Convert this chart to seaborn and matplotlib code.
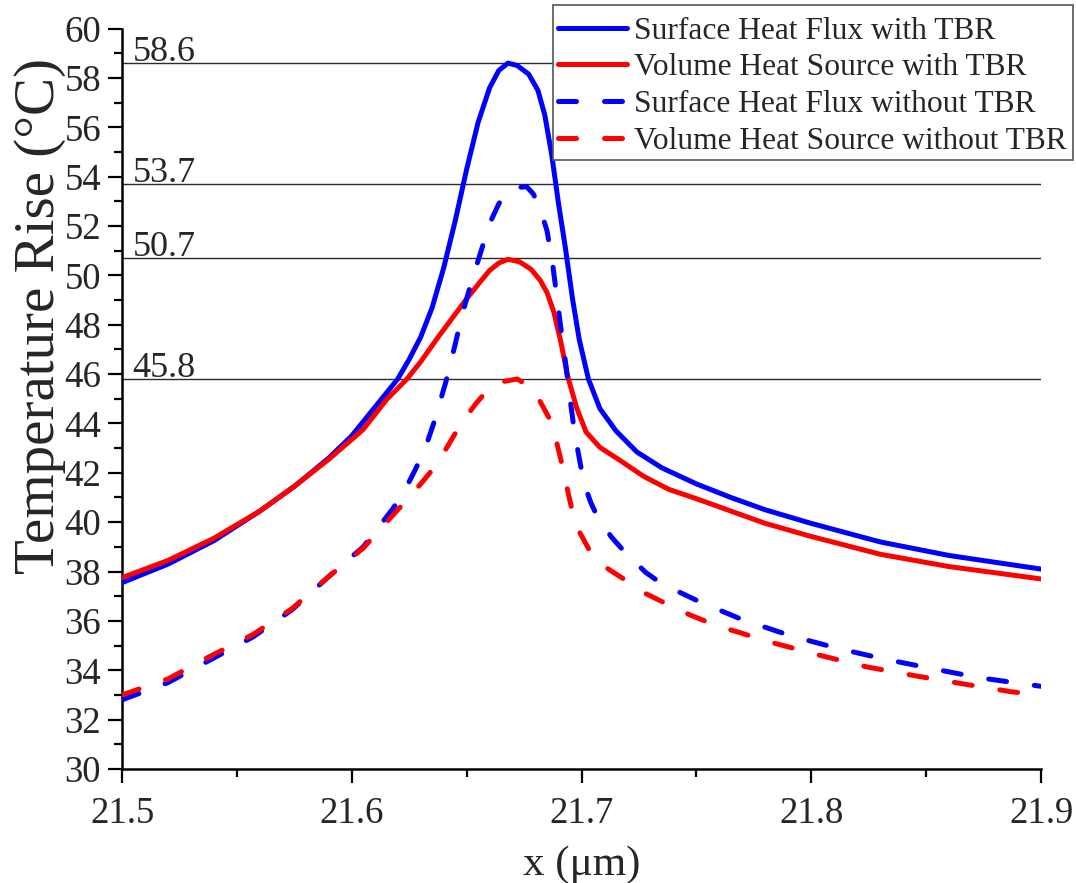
import numpy as np
import pandas as pd
import seaborn as sns
import matplotlib
matplotlib.use("Agg")
import matplotlib.pyplot as plt
from matplotlib.patches import Rectangle
from matplotlib.ticker import MultipleLocator

# Temperature rise along x (um) for the four heat-source models
x_shf_tbr = [21.5, 21.52, 21.54, 21.56, 21.575, 21.59, 21.6, 21.61, 21.62, 21.625,
             21.63, 21.635, 21.64, 21.645, 21.65, 21.655, 21.66, 21.664, 21.668,
             21.672, 21.677, 21.681, 21.684, 21.687, 21.69, 21.693, 21.696, 21.699,
             21.703, 21.708, 21.715, 21.724, 21.735, 21.75, 21.765, 21.78, 21.8,
             21.83, 21.86, 21.9]
y_shf_tbr = [37.55, 38.3, 39.25, 40.45, 41.45, 42.6, 43.5, 44.65, 45.8, 46.6,
             47.5, 48.7, 50.3, 52.2, 54.3, 56.2, 57.6, 58.3, 58.6,
             58.5, 58.15, 57.5, 56.5, 54.9, 52.9, 51.1, 49.1, 47.4,
             45.8, 44.6, 43.7, 42.85, 42.2, 41.55, 41.0, 40.5, 39.95,
             39.2, 38.65, 38.1]

x_vhs_tbr = [21.5, 21.52, 21.54, 21.56, 21.575, 21.59, 21.6, 21.605, 21.615, 21.624,
             21.63, 21.638, 21.644, 21.65, 21.656, 21.66, 21.664, 21.668, 21.673,
             21.678, 21.682, 21.685, 21.688, 21.691, 21.694, 21.698, 21.702, 21.708,
             21.716, 21.727, 21.738, 21.75, 21.765, 21.78, 21.8, 21.83, 21.86, 21.9]
y_vhs_tbr = [37.75, 38.45, 39.35, 40.45, 41.45, 42.55, 43.35, 43.76, 44.95, 45.8,
             46.5, 47.55, 48.3, 49.05, 49.75, 50.2, 50.5, 50.65, 50.55,
             50.25, 49.8, 49.3, 48.5, 47.3, 45.9, 44.6, 43.65, 43.03,
             42.55, 41.86, 41.33, 40.95, 40.45, 39.95, 39.42, 38.7, 38.2, 37.7]

x_shf_no = [21.5, 21.52, 21.538, 21.557, 21.574, 21.59, 21.605, 21.6175, 21.622,
            21.6275, 21.632, 21.636, 21.641, 21.645, 21.648, 21.652, 21.656, 21.66,
            21.664, 21.668, 21.672, 21.676, 21.679, 21.682, 21.685, 21.6875, 21.69,
            21.6915, 21.693, 21.695, 21.697, 21.699, 21.701, 21.704, 21.707, 21.713,
            21.719, 21.728, 21.735, 21.752, 21.77, 21.791, 21.811, 21.831, 21.853,
            21.873, 21.9]
y_shf_no = [32.8, 33.5, 34.4, 35.35, 36.45, 37.8, 39.0, 40.5, 41.1,
            42.1, 43.0, 44.1, 45.7, 47.2, 48.4, 49.7, 50.9, 52.1,
            52.9, 53.4, 53.55, 53.6, 53.3, 52.7, 51.8, 50.4, 48.6,
            47.5, 46.5, 45.0, 43.6, 42.6, 41.6, 40.8, 40.2, 39.4,
            38.77, 37.96, 37.5, 36.75, 36.05, 35.4, 34.9, 34.47, 34.06,
            33.7, 33.35]

x_vhs_no = [21.5, 21.52, 21.538, 21.557, 21.574, 21.59, 21.605, 21.62, 21.63,
            21.637, 21.643, 21.648, 21.654, 21.66, 21.666, 21.672, 21.679, 21.686,
            21.689, 21.6915, 21.6932, 21.696, 21.699, 21.704, 21.71, 21.72, 21.727,
            21.739, 21.747, 21.759, 21.768, 21.783, 21.804, 21.824, 21.845, 21.866,
            21.887, 21.9]
y_vhs_no = [33.0, 33.65, 34.55, 35.45, 36.5, 37.8, 38.95, 40.5, 41.55,
            42.34, 43.28, 44.05, 44.8, 45.45, 45.7, 45.8, 45.4, 44.2,
            43.3, 42.34, 41.6, 40.43, 39.62, 38.77, 38.2, 37.6, 37.15,
            36.6, 36.25, 35.8, 35.55, 35.12, 34.6, 34.14, 33.78, 33.45,
            33.13, 33.0]

series_labels = ["Surface Heat Flux with TBR", "Volume Heat Source with TBR",
                 "Surface Heat Flux without TBR", "Volume Heat Source without TBR"]

# Peak values marked with horizontal guide lines
peak_values = [58.6, 53.7, 50.7, 45.8]
peak_texts = ["58.6", "53.7", "50.7", "45.8"]

x_ticks = [21.5, 21.6, 21.7, 21.8, 21.9]
y_ticks = list(range(30, 61, 2))

sns.set_theme(style="ticks")
plt.rcParams["font.family"] = ["Liberation Serif", "DejaVu Serif"]

fig = plt.figure(figsize=(10.76, 8.83), dpi=100)
ax = fig.add_axes([0.1134, 0.1291, 0.8541, 0.8386])

# guide lines behind the curves
for v, t in zip(peak_values, peak_texts):
    ax.axhline(v, color="#2b2b2b", lw=1.0, zorder=1)
    ax.text(21.5045, v + 0.1, t, fontsize=26, ha="left", va="baseline", zorder=1)

dash = (0, (3.6, 5.6))
specs = [
    (x_shf_tbr, y_shf_tbr, "#0000ff", "-", series_labels[0]),
    (x_vhs_tbr, y_vhs_tbr, "#ff0000", "-", series_labels[1]),
    (x_shf_no, y_shf_no, "#0000ff", dash, series_labels[2]),
    (x_vhs_no, y_vhs_no, "#ff0000", dash, series_labels[3]),
]
for xs, ys, c, ls, lab in specs:
    df = pd.DataFrame({"x": xs, "y": ys})
    sns.lineplot(data=df, x="x", y="y", ax=ax, color=c, linewidth=3.6,
                 linestyle=ls, label=lab, zorder=3)

for ln in ax.lines:
    ln.set_dash_capstyle("round")
    ln.set_solid_capstyle("round")
    ln.set_solid_joinstyle("round")
    ln.set_dash_joinstyle("round")

ax.set_xlim(21.5, 21.9)
ax.set_ylim(30, 60)
ax.set_xticks(x_ticks)
ax.set_xticklabels([f"{v:.1f}" for v in x_ticks])
ax.set_yticks(y_ticks)
ax.xaxis.set_minor_locator(MultipleLocator(0.05))
ax.yaxis.set_minor_locator(MultipleLocator(1))

for side in ["top", "right"]:
    ax.spines[side].set_visible(False)
for side in ["left", "bottom"]:
    ax.spines[side].set_linewidth(1.8)
    ax.spines[side].set_color("black")

ax.tick_params(which="major", direction="out", length=10, width=1.6,
               labelsize=26.5, color="black")
ax.tick_params(axis="y", which="major", pad=5)
ax.tick_params(axis="x", which="major", pad=10)
ax.tick_params(which="minor", direction="out", length=5.5, width=1.6,
               color="black")

ax.set_xlabel("x (μm)", fontsize=31, labelpad=10)
ax.set_ylabel("Temperature Rise (°C)", fontsize=41)
ax.yaxis.set_label_coords(-0.0605, 0.612)

# legend entries, boxed by a frame with extra room above the first row
leg = ax.legend(loc="upper right", bbox_to_anchor=(1071 / 1076, 1 - 12 / 883),
                bbox_transform=fig.transFigure, fontsize=22.7, frameon=False,
                handlelength=2.2, handletextpad=0.2, borderpad=0.15,
                borderaxespad=0, labelspacing=0.24)
leg.set_zorder(5)
for ln in leg.get_lines():
    ln.set_dash_capstyle("round")
    ln.set_solid_capstyle("round")

fig.canvas.draw()
bb = leg.get_window_extent().transformed(fig.transFigure.inverted())
top_extra = 7 / 883
frame = Rectangle((bb.x0, bb.y0), bb.width + 2 / 1076, bb.height + top_extra,
                  transform=fig.transFigure, facecolor="white",
                  edgecolor="#555555", linewidth=1.2, zorder=4, clip_on=False)
ax.add_patch(frame)

fig.savefig("out.png", dpi=100, facecolor="white")
